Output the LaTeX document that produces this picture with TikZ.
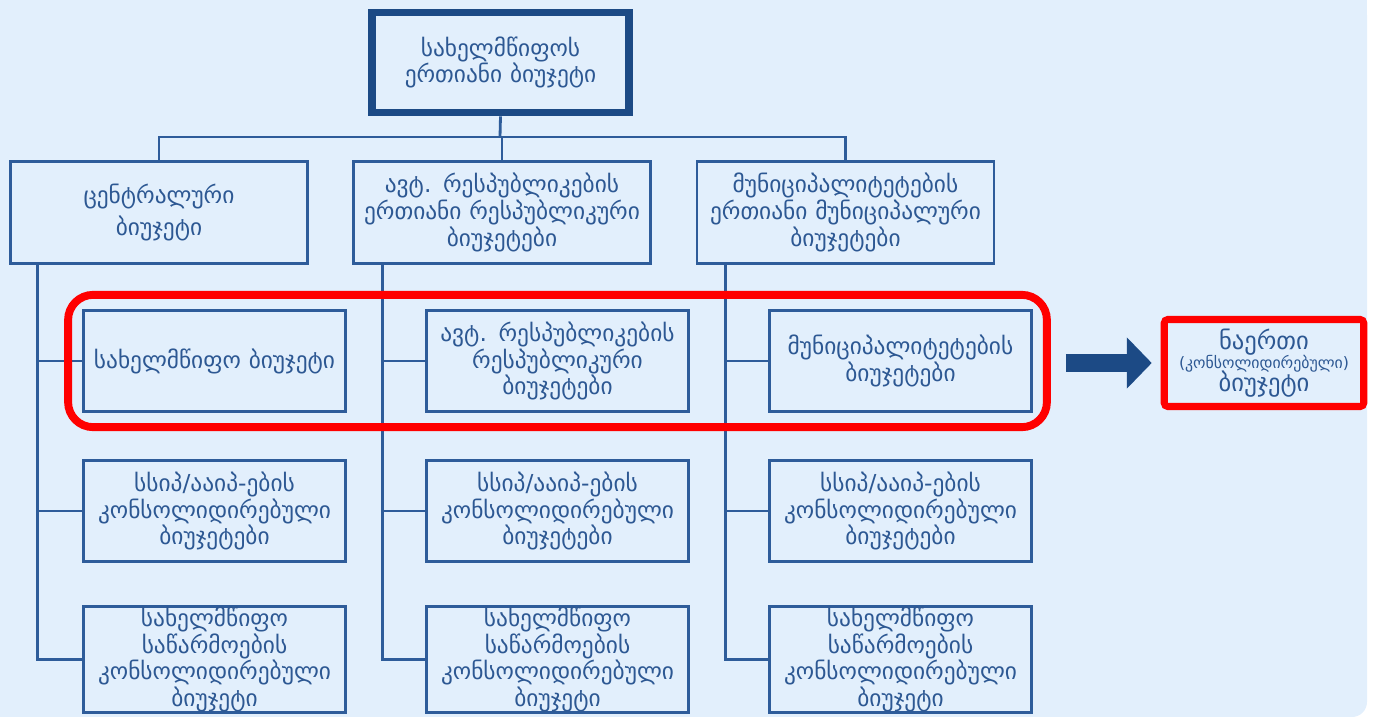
\documentclass[tikz,border=0pt]{standalone}
\usepackage{fontspec}
\setmainfont{DejaVu Sans}
\usetikzlibrary{calc, positioning, arrows.meta, fit}
\definecolor{bgblue}{HTML}{E2EFFC}
\definecolor{boxblue}{HTML}{2E5C9A}
\definecolor{darkblue}{HTML}{1C4A85}
\definecolor{txtblue}{HTML}{2D5893}
\definecolor{hotred}{HTML}{FF0000}

\begin{document}
\begin{tikzpicture}[x=0.02cm, y=-0.02cm,
  box/.style={draw=boxblue, line width=1.6pt, fill=bgblue, text=txtblue, align=center, inner sep=2pt, font=\fontsize{13.3}{13}\selectfont},
  headbox/.style={box, minimum width=5.9cm, minimum height=2.05cm, text width=5.8cm},
  subbox/.style={box, inner ysep=0pt, minimum width=5.17cm, minimum height=2.03cm, text width=5.1cm},
  wire/.style={draw=boxblue, line width=1.6pt}]
  \useasboundingbox (0,0) rectangle (1374,717);
  % background
  \fill[bgblue, rounded corners=0.3cm] (0,0) rectangle (1367,717);
  \fill[bgblue] (0,0) rectangle (1367,690);
  \fill[bgblue] (0,0) rectangle (1330,717);

  \node[box, line width=4.5pt, draw=darkblue, minimum width=5.1cm, minimum height=2cm, text width=5cm, font=\fontsize{13.3}{14}\selectfont] (top) at (500.5,62.5) {სახელმწიფოს\\ერთიანი ბიუჯეტი};

  \node[headbox, font=\fontsize{13.3}{18}\selectfont] (c1) at (159,212.5) {ცენტრალური\\ბიუჯეტი};
  \node[headbox] (c2) at (502,212.5) {ავტ. რესპუბლიკების\\ერთიანი რესპუბლიკური\\ბიუჯეტები};
  \node[headbox] (c3) at (845.5,212.5) {მუნიციპალიტეტების\\ერთიანი მუნიციპალური\\ბიუჯეტები};

  \node[subbox] (s1) at (214.5,361) {სახელმწიფო ბიუჯეტი};
  \node[subbox] (s2) at (557.5,361) {ავტ. რესპუბლიკების\\რესპუბლიკური\\ბიუჯეტები};
  \node[subbox] (s3) at (900.5,361) {მუნიციპალიტეტების\\ბიუჯეტები};

  \node[subbox] (p1) at (214.5,511) {სსიპ/ააიპ-ების\\კონსოლიდირებული\\ბიუჯეტები};
  \node[subbox] (p2) at (557.5,511) {სსიპ/ააიპ-ების\\კონსოლიდირებული\\ბიუჯეტები};
  \node[subbox] (p3) at (900.5,511) {სსიპ/ააიპ-ების\\კონსოლიდირებული\\ბიუჯეტები};

  \node[subbox, font=\fontsize{13.3}{12.4}\selectfont] (e1) at (214.5,659.5) {სახელმწიფო\\საწარმოების\\კონსოლიდირებული\\ბიუჯეტი};
  \node[subbox, font=\fontsize{13.3}{12.4}\selectfont] (e2) at (557.5,659.5) {სახელმწიფო\\საწარმოების\\კონსოლიდირებული\\ბიუჯეტი};
  \node[subbox, font=\fontsize{13.3}{12.4}\selectfont] (e3) at (900.5,659.5) {სახელმწიფო\\საწარმოების\\კონსოლიდირებული\\ბიუჯეტი};

  \node[box, draw=hotred, line width=4pt, rounded corners=2pt, minimum width=3.9cm, minimum height=1.74cm, text width=3.85cm, font=\fontsize{14}{15}\selectfont] (res) at (1264,363) {ნაერთი\\[-4pt]{\fontsize{9}{10}\selectfont(კონსოლიდირებული)}\\[-2pt]ბიუჯეტი};

  % tree
  \coordinate (bus) at (500,137);
  \draw[wire] (top.south) -- (bus);
  \draw[wire] (c1.north) |- (bus) -| (c3.north);
  \draw[wire] (c2.north) -- (c2.north|-bus);

  \coordinate (v1) at ([xshift=0.56cm]c1.south west);
  \coordinate (v2) at ([xshift=0.6cm]c2.south west);
  \coordinate (v3) at ([xshift=0.6cm]c3.south west);
  \draw[wire] (v1) |- (e1.west);
  \draw[wire] (v2) |- (e2.west);
  \draw[wire] (v3) |- (e3.west);
  \draw[wire] (s1.west) -- (s1.west-|v1);
  \draw[wire] (p1.west) -- (p1.west-|v1);
  \draw[wire] (s2.west) -- (s2.west-|v2);
  \draw[wire] (p2.west) -- (p2.west-|v2);
  \draw[wire] (s3.west) -- (s3.west-|v3);
  \draw[wire] (p3.west) -- (p3.west-|v3);

  % red frame round the three budgets
  \node[draw=hotred, line width=4.5pt, rounded corners=0.5cm, inner sep=0.28cm, fit=(s1) (s3)] (frame) {};

  \draw[darkblue, line width=0.36cm, -{Triangle[length=0.5cm, width=1cm]}, shorten <=0.3cm, shorten >=0.18cm] (frame.east|-res.west) -- (res.west);
\end{tikzpicture}
\end{document}
